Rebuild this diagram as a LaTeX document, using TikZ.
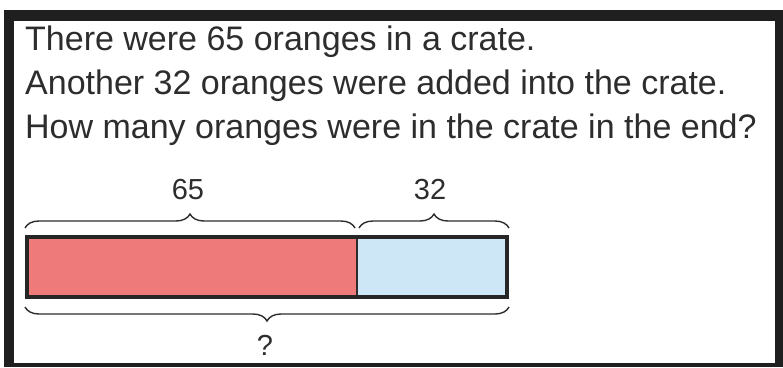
\documentclass[tikz,border=0pt]{standalone}
\usepackage{fontspec}
\setmainfont{Liberation Sans}
\newfontfamily\numfont{Liberation Sans}
\usetikzlibrary{decorations.pathreplacing}

\begin{document}
\begin{tikzpicture}[x=1pt, y=-1pt]
    % Define colors
    \definecolor{barred}{RGB}{238, 122, 122}
    \definecolor{barblue}{RGB}{205, 231, 247}
    \definecolor{inkgray}{RGB}{45, 45, 45}

    \tikzset{
        qline/.style={anchor=base west, inner sep=0pt, text=inkgray, font=\fontsize{34}{34}\selectfont},
        part/.style={anchor=north west, inner sep=0pt, draw=inkgray, line width=1pt, minimum height=59pt},
        bracelabel/.style={inner sep=0pt, text=inkgray, font=\numfont\fontsize{29}{29}\selectfont},
        bracepath/.style={decorate, decoration={brace, amplitude=14pt}, line width=1.4pt, draw=inkgray}
    }

    % Canvas and thick frame
    \useasboundingbox (0,0) rectangle (783,367);
    \fill[white] (0,0) rectangle (783,367);
    \fill[black!88] (4,10) rectangle (783,367);
    \fill[white] (14,21) rectangle (775,363);

    % Question text
    \node[qline] (line1) at (25,50) {There were 65 oranges in a crate.};
    \node[qline] (line2) at (25,94) {Another 32 oranges were added into the crate.};
    \node[qline] (line3) at (25,138) {How many oranges were in the crate in the end?};

    % Bar model - two parts
    \node[part, fill=barred, minimum width=329pt] (partA) at (27,237) {};
    \node[part, fill=barblue, minimum width=149pt] (partB) at (partA.north east) {};
    \draw[line width=4pt, draw=black!85] (partA.north west) rectangle (partB.south east);

    % Braces above the parts
    \coordinate (topA) at ([shift={(-2,-9)}]partA.north west);
    \coordinate (topM) at ([shift={(-2,-9)}]partA.north east);
    \coordinate (topN) at ([shift={(2,-9)}]partA.north east);
    \coordinate (topB) at ([shift={(2,-9)}]partB.north east);
    \draw[bracepath] (topA) -- (topM);
    \draw[bracepath] (topN) -- (topB);
    \node[bracelabel] (labA) at (188,190) {65};
    \node[bracelabel] (labB) at (430,190) {32};

    % Brace below the whole bar
    \coordinate (botA) at ([shift={(-2,10)}]partA.south west);
    \coordinate (botB) at ([shift={(2,10)}]partB.south east);
    \draw[bracepath, decoration={mirror}] (botA) -- (botB);
    \node[bracelabel] (total) at (265,345) {?};

\end{tikzpicture}
\end{document}
